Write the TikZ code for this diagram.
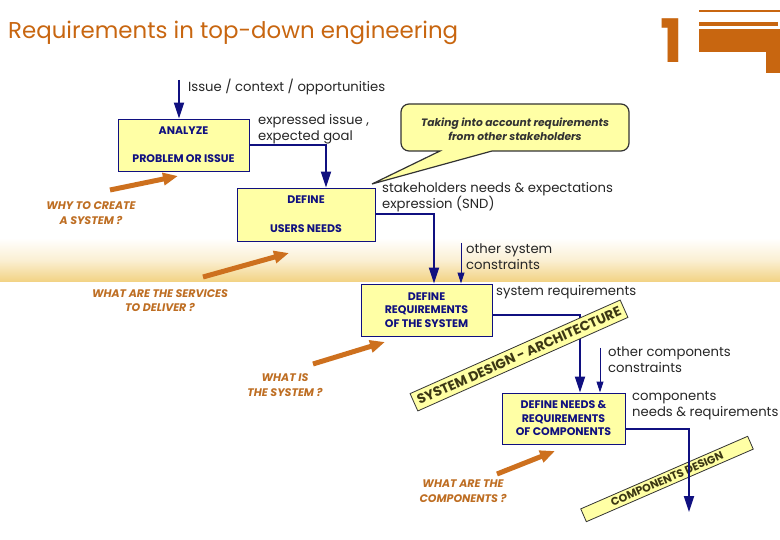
\documentclass[tikz,border=0pt]{standalone}
\usepackage{fontspec}
\setmainfont{Poppins}
\usetikzlibrary{arrows.meta,calc}
\definecolor{navy}{RGB}{16,16,128}
\definecolor{boxfill}{RGB}{255,255,165}
\definecolor{rust}{RGB}{200,102,16}
\definecolor{labelor}{RGB}{190,110,35}
\definecolor{arrowor}{RGB}{205,112,30}
\definecolor{band}{RGB}{242,210,130}
\definecolor{bannertext}{RGB}{60,55,20}
\newcommand\rbBoxFont{\bfseries\fontsize{11}{13.5}\selectfont}
\newcommand\rbBodyFont{\fontsize{13.2}{16}\selectfont}
\newcommand\rbQFont{\bfseries\itshape\fontsize{11}{14.5}\selectfont}
\newcommand\rbCallFont{\bfseries\itshape\fontsize{10.7}{14}\selectfont}
\newcommand\rbBannerFont{\bfseries\fontsize{13.5}{14}\selectfont}
\begin{document}
\begin{tikzpicture}[x=1pt,y=-1pt,
  box/.style={draw=navy, line width=0.9pt, fill=boxfill, align=center, inner sep=0pt, text=navy, font=\rbBoxFont},
  conn/.style={draw=navy, line width=2pt, -{Triangle[length=16pt,width=10pt]}},
  thinconn/.style={draw=navy, line width=1pt, -{Triangle[length=11pt,width=7pt]}},
  txt/.style={anchor=west, align=left, inner sep=0pt, font=\rbBodyFont, text=black!85},
  qlabel/.style={align=center, inner sep=0pt, text=labelor, font=\rbQFont},
  orarrow/.style={draw=arrowor, line width=5pt, -{Triangle[length=15pt,width=12pt]}},
  banner/.style={draw=black!80, line width=0.8pt, fill=boxfill, inner sep=0pt, text=bannertext, font=\rbBannerFont}
]
\useasboundingbox (0,0) rectangle (780,540);
% background band
\shade[top color=white, bottom color=band, middle color=band!35] (0,238) rectangle (780,282);

% title and logo
\node[anchor=west, inner sep=0pt, text=rust, font=\fontsize{22.9}{26}\selectfont] (title) at (8,33) {Requirements in top-down engineering};
\node[inner sep=0pt, text=rust, font=\bfseries\fontsize{60}{60}\selectfont] (one) at (672,41) {1};
\draw[rust, line width=1.2pt] (699,11) -- (780,11);
\fill[rust] (699,22) rectangle (778,26);
\fill[rust] (699,29) rectangle (780,52);
\fill[rust] (766,52) rectangle (780,73);

% boxes
\node[box, minimum width=131pt, minimum height=52pt] (analyze) at (183.5,145) {ANALYZE\\[14.5pt]PROBLEM OR ISSUE};
\node[box, minimum width=138pt, minimum height=53pt] (define) at (306,214.5) {DEFINE\\[15.5pt]USERS NEEDS};
\node[box, minimum width=131pt, minimum height=52pt] (req) at (426.5,310) {DEFINE\\REQUIREMENTS\\OF THE SYSTEM};
\node[box, minimum width=123pt, minimum height=51pt] (needs) at (563.5,418.5) {DEFINE NEEDS \&\\REQUIREMENTS\\OF COMPONENTS};

% callout
\draw[draw=black!80, line width=1.2pt, fill=boxfill]
  (401,127) [rounded corners=8pt] -- (401,104) -- (629,104) -- (629,151) [sharp corners] -- (492,151) -- (372,184) -- (440,151) [rounded corners=8pt] -- (401,151) -- cycle;
\node[align=center, inner sep=0pt, font=\rbCallFont, text=black!80] (callout) at (515,129) {Taking into account requirements\\from other stakeholders};

% texts
\node[txt] (issue) at (188,87) {Issue / context / opportunities};
\node[txt] (expr) at (258,129) {expressed issue ,\\expected goal};
\node[txt] (snd) at (382,197) {stakeholders needs \& expectations\\expression (SND)};
\node[txt] (osc) at (466,257) {other system\\constraints};
\node[txt] (sysreq) at (496,292) {system requirements};
\node[txt] (occ) at (608,359.5) {other components\\constraints};
\node[txt] (cnr) at (632,406) {components\\needs \& requirements};

% question labels
\node[qlabel] (why) at (91,213) {WHY TO CREATE\\A SYSTEM ?};
\node[qlabel] (services) at (160,300.5) {WHAT ARE THE SERVICES\\TO DELIVER ?};
\node[qlabel] (whatis) at (285,385) {WHAT IS\\THE SYSTEM ?};
\node[qlabel] (comps) at (463,491) {WHAT ARE THE\\COMPONENTS ?};

% orange arrows
\coordinate (o1s) at (110,190); \coordinate (o1e) at (178,176);
\coordinate (o2s) at (203,277); \coordinate (o2e) at (289,253);
\coordinate (o3s) at (313,364); \coordinate (o3e) at (385,342);
\coordinate (o4s) at (497,474); \coordinate (o4e) at (555,451);
\draw[orarrow] (o1s) -- (o1e);
\draw[orarrow] (o2s) -- (o2e);
\draw[orarrow] (o3s) -- (o3e);
\draw[orarrow] (o4s) -- (o4e);

% connectors
\coordinate (issuetop) at (179,80);
\draw[conn] (issuetop) -- (analyze.north -| issuetop);
\coordinate (x1) at (326,0);
\draw[conn] (analyze.east) -| (define.north -| x1);
\coordinate (x2) at (434,0);
\draw[conn] (define.east) -| (req.north -| x2);
\coordinate (osctop) at (461,243);
\draw[thinconn] (osctop) -- (req.north -| osctop);
\coordinate (x3) at (580,0);
\draw[conn] ($(req.east)+(0,5)$) -| (needs.north -| x3);
\coordinate (occtop) at (600,348);
\draw[thinconn] (occtop) -- (needs.north -| occtop);

% banners
\node[banner, rotate=24, minimum width=230pt, minimum height=19pt] (sysdesign) at (519,355.5) {SYSTEM DESIGN - ARCHITECTURE};
\node[banner, rotate=23.5, minimum width=182pt, minimum height=14pt, font=\bfseries\fontsize{11}{11}\selectfont] (compdesign) at (667,479) {COMPONENTS DESIGN};
\coordinate (end4) at (689,512);
\draw[conn] ($(needs.east)+(0,10)$) -| (end4);
\end{tikzpicture}
\end{document}
